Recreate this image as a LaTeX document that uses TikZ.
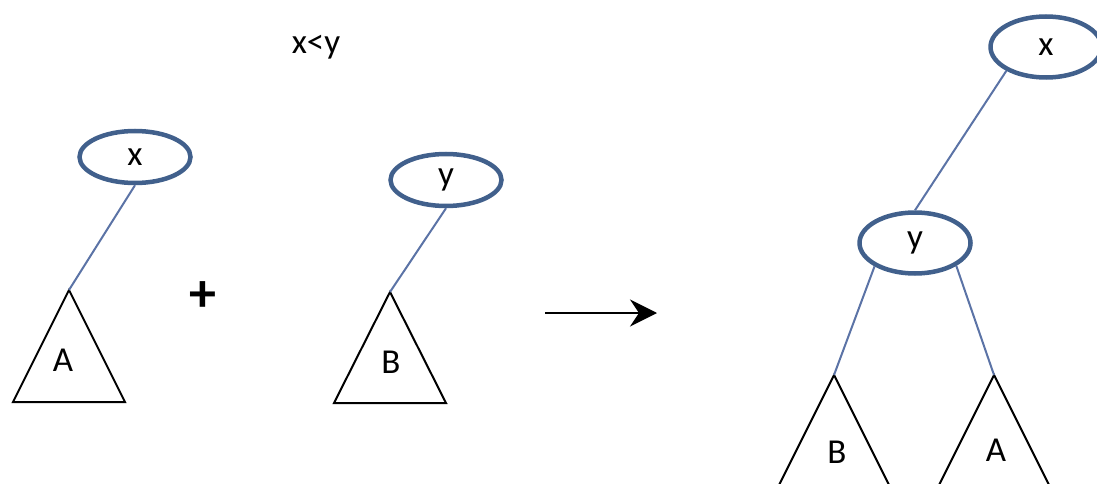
\documentclass[tikz,border=0pt]{standalone}
\usepackage{fontspec}
\setmainfont{Carlito}
\usetikzlibrary{shapes.geometric, arrows.meta}
\definecolor{nodeblue}{HTML}{41608C}
\definecolor{edgeblue}{HTML}{5B73A6}

\begin{document}
\begin{tikzpicture}[x=1pt, y=-1pt,
  key/.style={ellipse, draw=nodeblue, line width=4.5pt, inner sep=0pt,
    minimum width=111pt, minimum height=52pt, font=\fontsize{35}{38}\selectfont},
  edge/.style={draw=edgeblue, line width=2pt},
  tri/.style={draw=black, line width=2pt, line join=miter},
  lbl/.style={font=\fontsize{35}{38}\selectfont, inner sep=0pt},
]
  \useasboundingbox (0,0) rectangle (1097,484);
  \clip (0,0) rectangle (1097,484);
  % left tree
  \node[key] (xl) at (135,157) {x};
  \coordinate (tA) at (69,290);
  \draw[tri] (tA) -- ++(-56,112) -- ++(112,0) -- cycle;
  \node[lbl] (la) at (63,360) {A};
  \draw[edge] (xl.south) -- (tA);
  % plus sign
  \node[font=\fontsize{54}{54}\selectfont\bfseries, inner sep=0pt] (plus) at (203,297) {+};
  % condition
  \node[lbl] (cond) at (316,47) {x<y};
  % middle tree
  \node[key] (ym) at (446,180) {y};
  \coordinate (tB) at (390,292);
  \draw[tri] (tB) -- ++(-56,111) -- ++(112,0) -- cycle;
  \node[lbl] (lb) at (391,362) {B};
  \draw[edge] (ym.south) -- (tB);
  % arrow
  \coordinate (arrS) at (545,313);
  \coordinate (arrE) at (657,313);
  \draw[line width=2.5pt, -{Stealth[length=27pt, width=27pt, inset=9pt]}] (arrS) -- (arrE);
  % result tree
  \node[key, minimum height=61pt] (xr) at (1046,47) {x};
  \node[key, minimum height=61pt] (yr) at (915,243) {y};
  \coordinate (tB2) at (834,375);
  \coordinate (tA2) at (994,375);
  \draw[tri] (tB2) -- ++(-56,112) -- ++(112,0) -- cycle;
  \draw[tri] (tA2) -- ++(-56,112) -- ++(112,0) -- cycle;
  \node[lbl] (lb2) at (837,452) {B};
  \node[lbl] (la2) at (996,450) {A};
  \draw[edge] (xr.211) -- (yr.north);
  \draw[edge] (yr.210) -- (tB2);
  \draw[edge] (yr.331) -- (tA2);
\end{tikzpicture}
\end{document}
